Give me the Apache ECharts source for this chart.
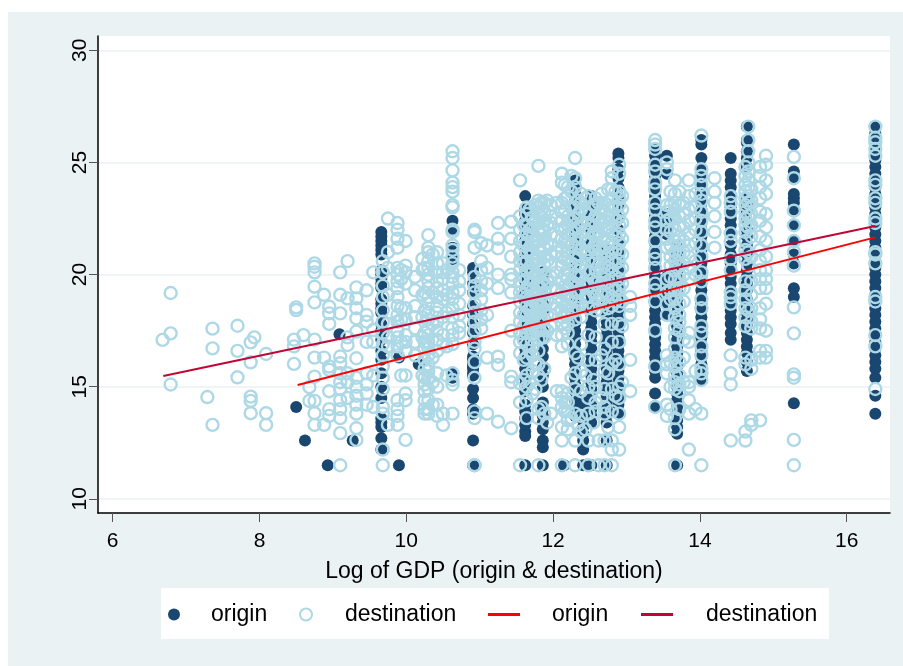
<!DOCTYPE html>
<html><head><meta charset="utf-8">
<style>html,body{margin:0;padding:0;background:#fff}#c{width:903px;height:666px}</style>
<script src="https://cdn.jsdelivr.net/npm/echarts@6/dist/echarts.min.js"></script>
</head><body><div id="c"></div>
<script>
const xTicks=[6,8,10,12,14,16];
const yTicks=[10,15,20,25,30];
const originColumns=[
[8.5,[14.1]],[8.62,[12.6]],[8.93,[11.5]],[9.09,[17.34]],[9.27,[12.6]],[9.9,[16.3,11.5]],[10.17,[16.0]],
[9.66,[21.9,21.7,21.5,21.3,21.1,20.9,20.2,20,19.8,19.6,19.4,18.9,18.7,18.5,18.3,17.8,17.5,17.1,16.6,16.2,15.6,15.0,14.5,13.6,13.4,13.2,12.7,12.2]],
[10.63,[22.4,22.0,21.2,20.9,20.7,15.6,15.4]],
[10.91,[20.3,20.1,19.6,19.2,18.6,18.2,17.8,17.4,16.9,16.35,16.2,16.0,15.9,15.8,15.6,15.5,14.9,14.5,14.0,13.8,12.6,11.5]],
[11.62,[23.5,22.9,22.7,22.4,22.1,21.8,21.5,21.2,20.9,20.6,20.3,20,19.7,19.4,19.1,18.8,18.5,18.2,17.9,17.6,17.3,17,16.7,16.4,16.1,15.8,15.4,15.1,14.8,14.2,13.9,13.6,13.3,13.0,12.8,11.5]],
[11.86,[20.1,19.9,19.5,19.1,18.7,18.3,17.9,17.5,17.1,16.7,16.34,15.9,15.5,15,14.3,14,13.7,13.4,13.1,12.6,12.3,11.5]],
[12.15,[11.5]],
[12.3,[24.2,23.9,23.6,23.3,23,22.6,22.2,21.8,21.4,21,20.6,20.2,19.9,19.6,19.3,19,18.7,18.4,18.1,17.8,17.5,17.2,16.9,16.6,16.3,16,15.7,15.4,15.1,14.8,14.4,14,13.7]],
[12.41,[14.4,14.1,13.8,13.5,13.2,12.9,12.6,12.2,11.5]],
[12.52,[23.5,23.1,22.7,22.3,21.9,21.5,21.1,20.7,20.3,20,19.7,19.4,19.1,18.8,18.5,18.2,17.9,17.6,17.3,17,16.7,16.4,16.1,15.8,15.5,15.2,14.9,14.6,14.3,14,13.7,13.4,11.5]],
[12.73,[21.1,20.7,20.3,20,19.7,19.4,19.1,18.8,18.5,18.2,17.9,17.6,17.3,17,16.7,16.4,16.1,15.8,15.5,15.2,14.9,14.6,14.3,14,13.7,13.4,12.6,11.5]],
[12.89,[25.4,25.2,24.7,24.3,23.9,23.5,23,22.5,22,21.5,21,20.6,20.2,19.9,19.6,19.3,19,18.7,18.4,18.1,17.8,17.5,17.2,16.9,16.6,16.3,16,15.7,15.4,15.1,14.8,14.5,14.2,13.8]],
[13.39,[25.6,25.3,25,24.7,24.4,24.1,23.8,23.5,23.2,22.9,22.6,22.3,22,21.7,21.4,21.1,20.8,20.5,20.2,19.9,19.6,19.3,19,18.7,18.4,18.1,17.8,17.5,17.2,16.9,16.6,16.3,16,15.7,15.4,14.7,14.1]],
[13.55,[25.3,24.5,22.7,22.4,22.1,21.8,19.9,19.6,19.3,19,18.7,18.2]],
[13.69,[21.3,21,20.7,20.4,20.1,19.8,19.5,19.2,18.9,18.6,18.3,18,17.7,17.4,17.1,16.8,16.5,16.2,15.9,15.6,15.3,15,14.7,14.4,14.1,13.8,13.5,13.2,12.9,11.5]],
[14.02,[26.0,25.8,25.2,24.7,24.4,24.1,23.8,23.5,23.2,22.9,22.6,22.3,22,21.7,21.4,21.1,20.8,20.5,20.2,19.9,19.6,19.3,19,18.7,18.4,18.1,17.8,17.5,17.2,16.9,16.6,16.3,16,15.7,15.3]],
[14.42,[25.2,24.5,24.2,23.9,23.4,23,22.8,22.5,22.2,21.8,21.3,20.9,20.5,20.2,19.9,19.6,19.3,19,18.7,18.4,18.1,17.8,17.4,17.1]],
[14.64,[26.6,26,25.9,25.5,25.2,24.8,23.4,23.1,22.8,22.4,22,21.7,21.3,20.9,20.5,20.2,19.9,19.6,19.3,18.9,18.6,18.3,18,17.7,17.4,17.1,16.8,16.5,16.1,15.7]],
[15.28,[25.8,24.6,24.3,23.6,23.4,23.2,22.9,22.2,21.5,20.9,20.5,19.39,19,14.26]],
[16.39,[26.6,26.3,26,25.7,25.4,25.1,24.8,24.5,24.2,23.9,23.6,23.3,23,22.7,22.4,22.1,21.8,21.5,21.2,20.9,20.6,20.3,20,19.7,19.4,19.1,18.8,18.5,18.2,17.9,17.6,17.3,17,16.7,16.4,16.1,15.8,15.4,14.6,13.8]]
];
const destColumns=[
[6.68,[17.09]],[6.79,[19.18,17.38,15.1]],[7.29,[14.54]],[7.36,[17.59,16.71,13.3]],[7.7,[17.72,16.6,15.42]],[7.88,[16.98,16.09,14.56,14.37,13.82]],[7.93,[17.2]],[8.09,[16.46,13.82,13.3]],
[8.47,[17.1,16.8,16.02]],[8.5,[18.54,18.42]],[8.6,[17.3]],[8.68,[14.98,14.37]],[8.75,[20.5,20.35,20.1,19.46,18.76,17.1,16.3,15.45,14.37,13.82,13.3]],[8.88,[19.1,16.3,13.3]],[8.95,[18.57,18.27,17.8,15.9,15.75,14.8,14.0,13.7]],
[9.1,[20.1,19.1,18.27,16.35,16.05,15.6,15.2,14.9,14.4,14,13.6,12.93,11.5]],[9.2,[20.6,18.94,17.2,16.86,15.6,15.2,14.5]],[9.32,[19.43,18.94,18.5,18.05,17.46,16.27,15.4,15,14.6,14.2,13.8,13.15,12.63]],[9.46,[19.3,18.2,17.9,17,15.6,15.1,14.7,14.2]],[9.55,[20.1,17.53,17,15.5,14.1]],[9.68,[20.6,20.1,19.5,19,18.4,17.9,17.4,16.9,16.4,15.9,15.4,14.9,14.1,13.8,12.2,11.5]],
[9.75,[22.5,21,20.3,19.1,17.8,17.2,16.8,13.3]],[9.88,[22.3,22,21.6,21.2,20.3,20,19.7,19.4,19,18.6,18.2,17.9,17.5,17.2,16.8,16.4,14.4,14,13.7,13.3]],[9.93,[20.2,19.8,18.5,18,17,15.5]],[9.99,[21.5,20.4,20.1,19.6,18.5,18,17.3,17,16.6,15.5,14.7,14.4,12.63]],[10.12,[19.9,19.3,18.6,18.1,17.6,17,16.4]],
[10.22,[20.7,20.2,19.1,18.1,17.2,15.5]],[10.25,[20.3,19.2,18.4,17.4,17,16.7,16.2,15.8,15.4,15.1,14.8,14.4,14,13.8]],[10.3,[21.76,21.2,21,20.6,20.3,20,19.7,19.4,19,18.7,18.3,18,17.6,17.3,17,16.7,16.4,16,15.7,15.4,14.9,14.4,14,13.8]],[10.36,[20.9,19.2,17.8,16.3,15.2,14.2]],[10.42,[21,20.5,20.1,19.7,19.4,19,18.6,18.3,17.9,17.5,17.1,16.6,15.6,15,14.2,13.7]],[10.5,[20.5,20.1,19.8,19.3,18.9,18.1,17.3,16.9,13.8,13.3]],[10.55,[20.2,19.1,18.3,16.8,15.5]],
[10.63,[25.5,25.2,24.65,24.1,23.9,23.7,23.1,23,22,21.9,21.3,21.1,20.8,20.5,20.1,19.9,19.6,19.2,18.9,18.5,18.1,17.6,17.3,16.9,15.6,15.3,15.1,13.8]],[10.72,[20.2,19.7,19.3,18.7,18.2,17.7,17.4]],
[10.93,[22,21.9,21.2,19.9,19.5,19.2,18.7,18.3,17.9,17.5,17,16.7,16.1,15.4,13.9,13.6,11.5,11.5]],[11.02,[21.4,20.6,20.2,19.7,19.3,18.9,18.4,18,17.6]],[11.1,[21.3,20.3,19.6,18.2,16.3,13.8]],
[11.25,[22.3,21.6,21.17,20,19.4,16.34,15.97,13.44]],[11.43,[22.36,21.6,20.8,20,19.8,19.2,17.5,15.45,15.2,13.15]],
[11.55,[24.2,22.6,22,21.5,21,20.6,20.2,19.7,19.2,18.8,18.3,17.9,17.4,17,16.5,15.15,14.3,11.5]],
[11.6,[22.2,21.3,20.5,19.9,19.1,18.2,17.7,17.1,16.2,15.3]],
[11.64,[23,22.7,22.2,21.8,21.4,21,20.6,20.2,19.8,19.4,19,18.6,18.2,17.8,17.4,16.9,16.3,15.5,15,14.4,13.6]],
[11.68,[22.9,22,21.1,20.3,19.6,18.9,18.4,17.6,16.6,15.2]],
[11.72,[22.5,22.1,21.7,21.3,20.9,20.5,20.1,19.7,19.3,18.9,18.5,18.1,17.7,17.3,16.8,16.4,15.7,14.7]],
[11.76,[23.1,22.4,21.5,20.7,20,19.2,18.7,18.2,17.5,16,14.9]],
[11.8,[24.85,23.3,23,22.7,22.3,21.9,21.5,21.1,20.7,20.3,19.9,19.5,19.1,18.7,18.3,17.9,17.5,17.1,16.6,16,15.5,14,13.6,11.5]],
[11.84,[23.2,22.6,21.8,21,20.2,19.4,18.6,18.1,17.2,15.3,14.1]],
[11.88,[23.2,22.8,22.4,22,21.6,21.2,20.8,20.4,20,19.6,19.2,18.8,18.4,18,17.6,17.2,15.8,13.8]],
[11.92,[23.3,22.2,21.4,20.6,19.7,18.9,18.2,17.5,13.4]],
[11.97,[23.1,22.6,22.3,21.8,21.3,20.9,20.4,19.9,19.4,18.7,18.2,17.7,13.8]],
[12.05,[23.2,22.5,21.7,21,20.1,19.3,18.5,17.3,14.8]],
[12.12,[24.5,24.1,23.2,22.8,22.4,22,21.6,21.2,20.8,20.4,19.8,19.2,18.8,18.4,18.1,17.8,17.3,16.8,14.8,14.5,14.1,13.2,12.6,11.5]],
[12.16,[24,23.4,22.9,22.1,21.5,20.7,20,19.5,19.1,18.6,18.2,17.6,14.3,13.9]],
[12.2,[23.9,23.5,22.6,22.2,21.8,21.4,21,20.6,20.2,19.8,19.4,19,18.6,18.2,17.8,17.4,16.9,14.7,14.3,13.9,13.5,13.1]],
[12.25,[24.4,23.7,23,22.4,21.9,21.3,20.5,19.7,19,18.4,15.4,13.6]],
[12.3,[25.2,24.3,23.9,23,22.5,22,21.6,21.2,20.8,20.4,20,19.6,19.2,18.8,18.4,18,16.5,15.6,14.9,13.8,12.6,11.5]],
[12.34,[23.3,22.7,22.1,21.4,20.7,19.9,19.2,18.5,16.3,13.3]],
[12.38,[23.6,23.2,22.9,22.3,21.7,21.1,20.4,19.9,19.3,18.7,18.1,16.9,15.7,14.8,13.7,13]],
[12.44,[23.4,22.8,22,21.4,20.9,20.2,19.6,19,15.5,13.1]],
[12.48,[23.5,22.7,22.3,21.9,21.5,21,20.6,20.1,19.5,19,18.5,17.3,16.2,15,14.5,13.8,12.6,11.5]],
[12.55,[23.1,22.4,21.8,21.2,20.5,19.8,19.2,18.6,15.3,13.4]],
[12.58,[23.4,23,22.6,22.2,21.8,21.4,21,20.6,20.2,19.6,19,18.4,17.2,16.2,15,14.3,13.9]],
[12.62,[23.2,22.5,21.9,21.1,20.4,19.7,18.9,12.6,11.5]],
[12.66,[23.6,22.9,22.3,21.7,21,20.3,19.6,19.1,18.4,16.4,14.5]],
[12.7,[23.2,22.8,22.4,22,21.6,21.2,20.8,20.4,20,19.6,19.2,18.7,17.8,16.7,15.7,14.9,14.1,13.8,12.6,11.5]],
[12.75,[23.8,23.1,22.6,22.1,21.5,20.9,20.3,19.7,19.1,18.5,15.6,13.2]],
[12.8,[24.6,24.3,23.8,23.4,23,22.6,22.2,21.8,21.4,21,20.6,20.2,19.8,19.4,19,18.6,17.8,17,16,14.9,13.9,12.6,12.2,11.5]],
[12.85,[23.7,23,22.4,21.7,21.1,20.5,19.9,19.3,18.8,16.2,14.6]],
[12.9,[24.9,24.5,23.7,23.4,23.1,22.6,22.2,21.8,21.4,21,20.6,20.2,19.8,19.4,19,18.6,17.8,17,16,15,14.5,13.8,13.2,12.2]],
[12.94,[23.5,22.9,22.3,21.6,20.9,20.3,19.6,18.8,17.7,15.2]],
[13.05,[19,18.6,18.2,16.2,14.8]],
[13.39,[26,25.8,25.6,24.9,24.6,24.1,23.8,23.2,22.9,22.4,22.1,21.5,21,20.7,20.3,19.6,19.3,18.8,17.5,15.9,14.1]],
[13.55,[25,24.7,23.1,22.8,22.4,22,21.6,21.2,19.8,19.2,18.7,18.2,16.4,16,15.6,14.2,13.7]],
[13.6,[23.7,23.1,22.5,21.9,21.3,20.8,20.4,19.9,19.3,18.9,16.1,15,14]],
[13.66,[24.2,23.6,23.2,22.9,22.5,22,21.5,21,20.6,20.2,19.8,19.3,18.9,18.5,18.1,17.6,17.2,16.7,16.3,15.9,15.5,15.2,14.9,13.6,13.1,11.5]],
[13.72,[23.7,23.1,22.6,22.2,21.7,21.3,20.9,20.4,19.8,19.4,18.7,18.2,17.9,17.5,16.1,15.5,15.1,14.8,14]],
[13.78,[23.2,22.7,22.1,21.5,21,20.5,20,19.4,18.8,17.1,16.3,15.2]],
[13.85,[24.2,23.5,22.9,22.4,21.8,21.3,20.8,20.3,19.8,17.4,17,15.2,15,14.4,13.8,12.2]],
[13.94,[23.6,23,22.5,22,21.4,20.6,20,15.7,14]],
[14.02,[26.2,24.7,24.4,24,23.6,23.3,22.8,22.4,21.9,21.3,20.8,20.1,19.7,18.9,18.5,17.7,17.4,16.8,16.4,15.8,15.6,15.3,13.8,11.5]],
[14.2,[24.3,23.7,23.2,22.6,21.9,21.2]],
[14.42,[23.5,23.2,22.8,21.84,21.5,20.7,20.2,19.2,19,18.7,16.4,15.6,15.1,12.6]],
[14.62,[24.8,24.4,24,23.7,23.4,23.1,22.8,22.5,22.2,21.9,21.5,21.1,20.7,19.7,19.3,18.9,18.5,18.1,17.7,16.3,16,13,12.6]],
[14.66,[26.6,26,25.5,25,24.6,24.2,23.9,23.5,23.2,22.6,22.1,21,20.4,18.4]],
[14.7,[23.8,23.3,22.7,22.2,21.7,20.8,19.7,19.1,18.5,17.9,17.6,16.2,15.8,13.5,13.3]],
[14.82,[24.8,24.4,23.9,23.4,22.8,22.4,21.7,21.1,20.6,20.2,19.8,19.4,18.5,18,17.6,16.6,16.3,13.5]],
[14.9,[25.3,24.9,24.2,23.6,22.7,22.1,21.5,20.8,20.2,19.8,19.4,18.7,17.5,16.6,16.3]],
[15.28,[25.25,24.3,22.85,22.2,21.5,21,20.4,18.54,17.38,15.55,15.4,12.63,11.5]],
[16.39,[26.6,26.1,25.9,25.6,25.3,24.2,24,23.4,23.2,22.5,22.3,21,20.9,20.5,19,18.8,17.3,16.8,14.9]]
];
const fitOriginX=[8.52,16.39];const fitOriginY=[15.08,21.66];
const fitDestX=[6.69,16.39];const fitDestY=[15.48,22.17];
const toPts=cols=>{const r=[];cols.forEach(c=>c[1].forEach(y=>r.push([c[0],y])));return r;};
const NAVY='#1a476f',LT='#add8e6',RED='#ff0000',CR='#c10534',BG='#eaf2f3';
const chart=echarts.init(document.getElementById('c'),null,{renderer:'canvas'});
const font='"Liberation Sans",Arial,sans-serif';
const leg=(name,left,icon,gap)=>({show:true,data:[{name,icon}],left,top:603,padding:0,itemWidth:icon==='circle'?12:32,itemHeight:icon==='circle'?12:3,
  selectedMode:false,formatter:n=>n.replace(' fit',''),textStyle:{fontFamily:font,fontSize:23,color:'#000',padding:[0,0,0,gap]}});
chart.setOption({
 animation:false,backgroundColor:'#fff',
 graphic:[{type:'rect',silent:true,z:-10,shape:{x:8,y:12,width:895,height:654},style:{fill:BG}},
          {type:'rect',silent:true,z:-9,shape:{x:161,y:588,width:668,height:51},style:{fill:'#fff'}}],
 grid:{left:98,top:36,width:792,height:477,show:true,backgroundColor:'#fff',borderWidth:0},
 legend:[leg('origin',168,'circle',26),leg('destination',299,'circle',28),leg('origin fit',488,'rect',27),leg('destination fit',641,'rect',28)],
 xAxis:{type:'value',min:5.8,max:16.59,name:'Log of GDP (origin & destination)',nameLocation:'middle',nameGap:47,
  nameTextStyle:{fontFamily:font,fontSize:23,color:'#000'},splitLine:{show:false},
  axisLine:{onZero:false,lineStyle:{color:'#000',width:1.5}},
  axisTick:{customValues:xTicks,length:9,lineStyle:{color:'#555',width:1}},
  axisLabel:{customValues:xTicks,margin:18,fontFamily:font,fontSize:21,color:'#000',formatter:v=>String(v),hideOverlap:false,showMinLabel:true,showMaxLabel:true}},
 yAxis:{type:'value',min:9.37,max:30.64,
  splitLine:{show:true,lineStyle:{color:BG,width:1.5}},
  axisLine:{show:true,onZero:false,lineStyle:{color:'#000',width:1.5}},
  axisTick:{show:true,customValues:yTicks,length:9,lineStyle:{color:'#555',width:1}},
  axisLabel:{customValues:yTicks,rotate:90,margin:18,fontFamily:font,fontSize:21,color:'#000',formatter:v=>String(v),align:'center',verticalAlign:'middle'}},
 series:[
  {name:'origin',type:'scatter',data:toPts(originColumns),symbol:'circle',symbolSize:12,itemStyle:{color:NAVY,opacity:1},z:2},
  {name:'destination',type:'scatter',data:toPts(destColumns),symbol:'circle',symbolSize:12,
   itemStyle:{color:'rgba(0,0,0,0)',borderColor:LT,borderWidth:2.4,opacity:1},z:3},
  {name:'origin fit',type:'line',data:fitOriginX.map((x,i)=>[x,fitOriginY[i]]),symbol:'none',lineStyle:{color:RED,width:2},itemStyle:{color:RED},z:4},
  {name:'destination fit',type:'line',data:fitDestX.map((x,i)=>[x,fitDestY[i]]),symbol:'none',lineStyle:{color:CR,width:2},itemStyle:{color:CR},z:4}
 ]
});
</script></body></html>
